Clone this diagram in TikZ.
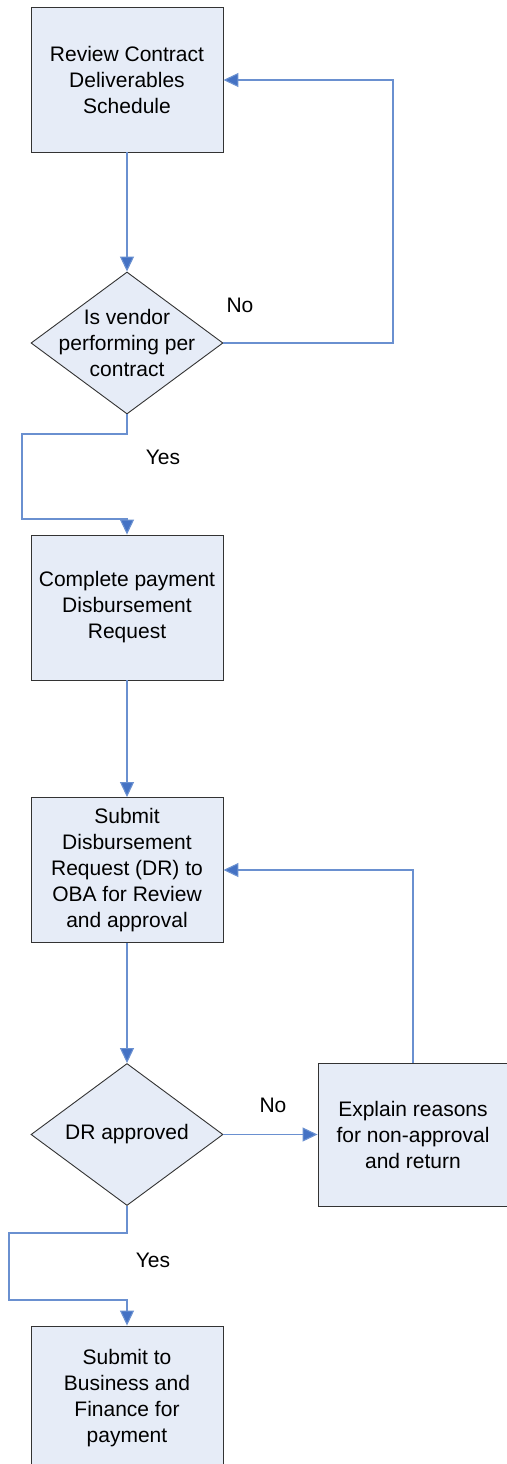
\documentclass[tikz,border=0pt]{standalone}
\usepackage{fontspec}
\setmainfont{Liberation Sans}
\usetikzlibrary{arrows.meta,shapes.geometric}
\definecolor{boxfill}{HTML}{E6ECF7}
\definecolor{linec}{HTML}{6A90D0}
\definecolor{tipc}{HTML}{4472C4}
\definecolor{edgec}{HTML}{333333}
\begin{document}
\begin{tikzpicture}[x=1pt,y=-1pt,
 every node/.style={font=\fontsize{21}{26}\selectfont},
 procbox/.style={draw=edgec,fill=boxfill,line width=0.9pt,minimum width=192pt,minimum height=145pt,inner sep=0pt,align=center},
 decbox/.style={diamond,draw=edgec,fill=boxfill,line width=0.9pt,minimum width=192pt,minimum height=142pt,inner sep=0pt},
 txt/.style={align=center,inner sep=0pt},
 conn/.style={draw=linec,line width=1.1pt},
 arr/.style={conn,-{Triangle[length=15pt,width=14pt,fill=tipc]}}]
\useasboundingbox (0,0) rectangle (506,1464);
\node[procbox] (b1) at (127,79.5) {Review Contract\\Deliverables\\Schedule};
\node[decbox] (d1) at (127,343) {};
\node[txt] (d1t) at (127,343) {Is vendor\\performing per\\contract};
\node[procbox] (b2) at (127,607.5) {Complete payment\\Disbursement\\Request};
\node[procbox] (b3) at (127,870) {Submit\\Disbursement\\Request (DR) to\\OBA for Review\\and approval};
\node[decbox] (d2) at (127,1134.5) {};
\node[txt] (d2t) at (127,1134.5) {DR approved};
\node[procbox,minimum width=190pt,minimum height=143pt] (b4) at (413,1134.5) {Explain reasons\\for non-approval\\and return};
\node[procbox] (b5) at (127,1398.5) {Submit to\\Business and\\Finance for\\payment};
\coordinate (r1) at (393,80);
\coordinate (y1a) at (22,434);
\coordinate (y1b) at (22,519);
\coordinate (y2a) at (9,1233);
\coordinate (y2b) at (9,1300);
\draw[arr] (b1.south) -- (d1.north);
\draw[arr] (d1.east) -| (r1) -- (b1.east|-r1);
\draw[arr] (d1.south) |- (y1a) -- (y1b) -| (b2.north);
\draw[arr] (b2.south) -- (b3.north);
\draw[arr] (b3.south) -- (d2.north);
\draw[arr] (d2.east) -- (b4.west);
\draw[arr] (b4.north) |- (b3.east);
\draw[arr] (d2.south) |- (y2a) -- (y2b) -| (b5.north);
\node (no1) at (240,305) {No};
\node (yes1) at (163,457) {Yes};
\node (no2) at (273,1105) {No};
\node (yes2) at (153,1260) {Yes};
\end{tikzpicture}
\end{document}
